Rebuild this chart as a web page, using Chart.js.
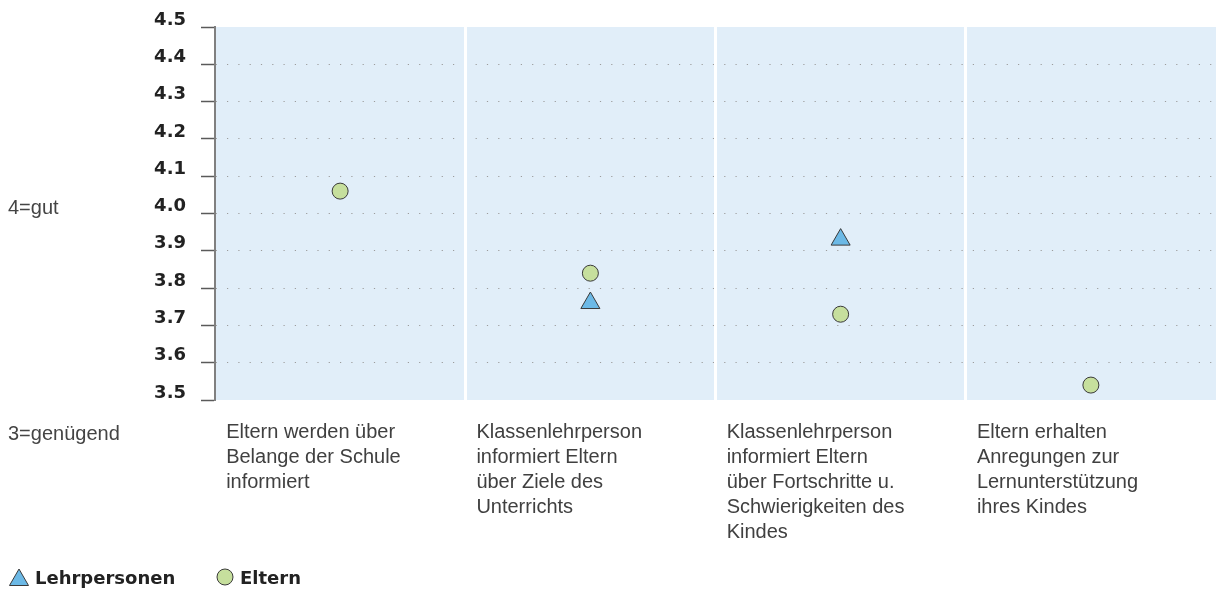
<!DOCTYPE html>
<html lang="de">
<head>
    <meta charset="UTF-8">
    <title>Information der Eltern</title>
    <style>
        html, body { margin: 0; padding: 0; background: #fff; }
        canvas { display: block; }
    </style>
    <script src="https://cdn.jsdelivr.net/npm/chart.js"></script>
</head>
<body>
    <canvas id="chart" width="1216" height="590"></canvas>

    <script>
        // categories (multi-line labels under each column)
        const categories = [
            ['Eltern werden über', 'Belange der Schule', 'informiert'],
            ['Klassenlehrperson', 'informiert Eltern', 'über Ziele des', 'Unterrichts'],
            ['Klassenlehrperson', 'informiert Eltern', 'über Fortschritte u.', 'Schwierigkeiten des', 'Kindes'],
            ['Eltern erhalten', 'Anregungen zur', 'Lernunterstützung', 'ihres Kindes']
        ];
        const lehrpersonen = [null, 3.76, 3.93, null];
        const eltern = [4.06, 3.84, 3.73, 3.54];

        const yMin = 3.5;
        const yMax = 4.5;
        const yStep = 0.1;
        const scaleNotes = ['4=gut', '3=genügend'];
        const seriesNames = ['Lehrpersonen', 'Eltern'];

        const blue = '#6cb9e6';
        const green = '#c6df9d';
        const edge = '#3a3a3a';

        function isEdgeTick(v) {
            return Math.abs(v - yMin) < 1e-6 || Math.abs(v - yMax) < 1e-6;
        }

        const decor = {
            id: 'decor',
            beforeDraw(chart) {
                const ctx = chart.ctx;
                const a = chart.chartArea;
                ctx.save();
                ctx.fillStyle = '#e1eef9';
                ctx.fillRect(a.left, a.top, a.right - a.left, a.bottom - a.top);
                ctx.restore();
            },
            afterDraw(chart) {
                const ctx = chart.ctx;
                const y = chart.scales.y;
                ctx.save();

                // scale notes on the far left
                ctx.font = '20px "Liberation Sans"';
                ctx.fillStyle = '#444';
                ctx.textBaseline = 'alphabetic';
                ctx.textAlign = 'left';
                ctx.fillText(scaleNotes[0], 8, y.getPixelForValue(4.0));
                ctx.fillText(scaleNotes[1], 8, 440);

                // legend
                const styles = ['triangle', 'circle'];
                const fills = [blue, green];
                const radii = [11, 8];
                const markX = [19, 225];
                const markY = [580, 577];
                const textX = [35, 240];
                ctx.font = 'bold 18px "DejaVu Sans"';
                for (let i = 0; i < seriesNames.length; i++) {
                    ctx.fillStyle = fills[i];
                    ctx.strokeStyle = edge;
                    ctx.lineWidth = 1;
                    Chart.helpers.drawPoint(ctx, { pointStyle: styles[i], radius: radii[i], rotation: 0, borderWidth: 1 }, markX[i], markY[i]);
                    ctx.fillStyle = '#222';
                    ctx.fillText(seriesNames[i], textX[i], 584);
                }
                ctx.restore();
            }
        };

        const ctx = document.getElementById('chart').getContext('2d');
        new Chart(ctx, {
            type: 'line',
            data: {
                labels: categories,
                datasets: [
                    {
                        label: seriesNames[0],
                        data: lehrpersonen,
                        showLine: false,
                        pointStyle: 'triangle',
                        pointRadius: 11,
                        pointHoverRadius: 11,
                        pointBackgroundColor: blue,
                        pointBorderColor: edge,
                        pointBorderWidth: 1
                    },
                    {
                        label: seriesNames[1],
                        data: eltern,
                        showLine: false,
                        pointStyle: 'circle',
                        pointRadius: 8,
                        pointHoverRadius: 8,
                        pointBackgroundColor: green,
                        pointBorderColor: edge,
                        pointBorderWidth: 1
                    }
                ]
            },
            options: {
                responsive: false,
                animation: false,
                layout: { autoPadding: false, padding: { top: 27, left: 0, right: 0, bottom: 0 } },
                plugins: {
                    legend: { display: false },
                    tooltip: { enabled: false }
                },
                scales: {
                    x: {
                        type: 'category',
                        offset: true,
                        border: { display: false },
                        grid: {
                            offset: true,
                            drawTicks: false,
                            lineWidth: 3,
                            color: c => (c.index > 0 && c.index < categories.length) ? '#ffffff' : 'rgba(0,0,0,0)'
                        },
                        ticks: {
                            align: 'start',
                            labelOffset: -114,
                            padding: 20,
                            maxRotation: 0,
                            autoSkip: false,
                            color: '#404040',
                            font: { family: 'Liberation Sans', size: 20, lineHeight: 1.25 }
                        },
                        afterFit: s => {
                            s.height = 190;
                            s.paddingLeft = 0;
                            s.paddingRight = 0;
                        }
                    },
                    y: {
                        min: yMin,
                        max: yMax,
                        border: { color: '#808080', width: 2, dash: [1.2, 10.1], dashOffset: 0.3 },
                        grid: {
                            z: -2,
                            lineWidth: 1,
                            color: c => (c.tick && isEdgeTick(c.tick.value)) ? 'rgba(0,0,0,0)' : '#9c9c9c',
                            tickLength: 14,
                            tickColor: '#5a5a5a',
                            tickWidth: 1.5,
                            tickBorderDash: []
                        },
                        ticks: {
                            stepSize: yStep,
                            padding: 15,
                            labelOffset: -7,
                            color: '#222',
                            font: { family: 'DejaVu Sans', weight: 'bold', size: 18 },
                            callback: v => Number(v).toFixed(1)
                        },
                        afterFit: s => {
                            s.width = 215;
                            s.paddingTop = 0;
                            s.paddingBottom = 0;
                        }
                    }
                }
            },
            plugins: [decor]
        });
    </script>
</body>
</html>
